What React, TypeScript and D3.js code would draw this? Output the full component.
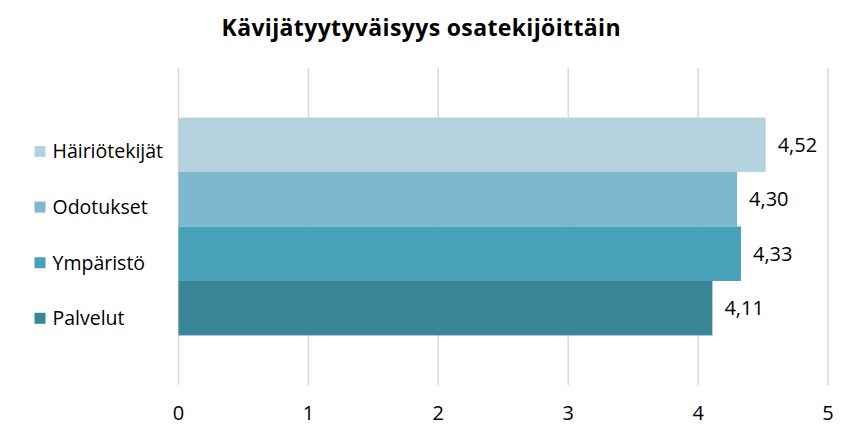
import { useEffect, useRef } from 'react';
import * as d3 from 'd3';

// Chart data
const SERIES = ["Häiriötekijät", "Odotukset", "Ympäristö", "Palvelut"];
const VALUES = [4.52, 4.30, 4.33, 4.11];
const COLORS = ["#B4D3DE", "#7DB8CC", "#48A1B8", "#3A8597"];
const TICKS = [0, 1, 2, 3, 4, 5];
const TITLE = "Kävijätyytyväisyys osatekijöittäin";

const WIDTH = 842;
const HEIGHT = 433;
const FONT = "'Open Sans', Lato, sans-serif";

export default function App() {
  const ref = useRef<SVGSVGElement>(null);

  useEffect(() => {
    if (!ref.current) return;
    const svg = d3.select(ref.current);
    svg.selectAll("*").remove();

    const x = d3.scaleLinear().domain([0, 5]).range([178.5, 828]);
    // Excel-style gap width 182%
    const y = d3.scaleBand<string>()
      .domain(SERIES)
      .range([68, 385])
      .paddingInner(0)
      .paddingOuter(0.91);

    svg.append("rect")
      .attr("width", WIDTH)
      .attr("height", HEIGHT)
      .attr("fill", "#ffffff");

    // Gridlines
    svg.append("g")
      .selectAll("line")
      .data(TICKS)
      .join("line")
      .attr("x1", d => x(d))
      .attr("x2", d => x(d))
      .attr("y1", 68)
      .attr("y2", 385)
      .attr("stroke", "#D9D9D9")
      .attr("stroke-width", 1.5);

    // Bars
    svg.append("g")
      .selectAll("rect")
      .data(SERIES)
      .join("rect")
      .attr("x", x(0))
      .attr("y", d => y(d)!)
      .attr("width", (d, i) => x(VALUES[i]) - x(0))
      .attr("height", y.bandwidth())
      .attr("fill", (d, i) => COLORS[i]);

    // Value labels
    svg.append("g")
      .selectAll("text")
      .data(SERIES)
      .join("text")
      .attr("x", (d, i) => x(VALUES[i]) + 12)
      .attr("y", d => y(d)! + y.bandwidth() / 2)
      .attr("dy", "0.35em")
      .attr("font-family", FONT)
      .attr("font-size", 20)
      .attr("fill", "#000")
      .text((d, i) => VALUES[i].toFixed(2).replace(".", ","));

    // Axis tick labels
    svg.append("g")
      .selectAll("text")
      .data(TICKS)
      .join("text")
      .attr("x", d => x(d))
      .attr("y", 413)
      .attr("dy", "0.35em")
      .attr("text-anchor", "middle")
      .attr("font-family", FONT)
      .attr("font-size", 20)
      .attr("fill", "#000")
      .text(d => String(d));

    // Legend
    const legend = svg.append("g")
      .selectAll("g")
      .data(SERIES)
      .join("g")
      .attr("transform", (d, i) => `translate(34.5, ${151.5 + i * 55.6})`);

    legend.append("rect")
      .attr("x", 0)
      .attr("y", -5.5)
      .attr("width", 11)
      .attr("height", 11)
      .attr("fill", (d, i) => COLORS[i]);

    legend.append("text")
      .attr("x", 18)
      .attr("dy", "0.35em")
      .attr("font-family", FONT)
      .attr("font-size", 19.5)
      .attr("fill", "#000")
      .text(d => d);

    // Title
    svg.append("text")
      .attr("x", 421)
      .attr("y", 36)
      .attr("text-anchor", "middle")
      .attr("font-family", FONT)
      .attr("font-size", 23)
      .attr("font-weight", "bold")
      .attr("textLength", 399)
      .attr("lengthAdjust", "spacing")
      .attr("fill", "#000")
      .text(TITLE);
  }, []);

  return (
    <div style={{ position: 'absolute', left: 0, top: 0 }}>
      <svg ref={ref} width={WIDTH} height={HEIGHT} style={{ display: 'block' }} />
    </div>
  );
}
